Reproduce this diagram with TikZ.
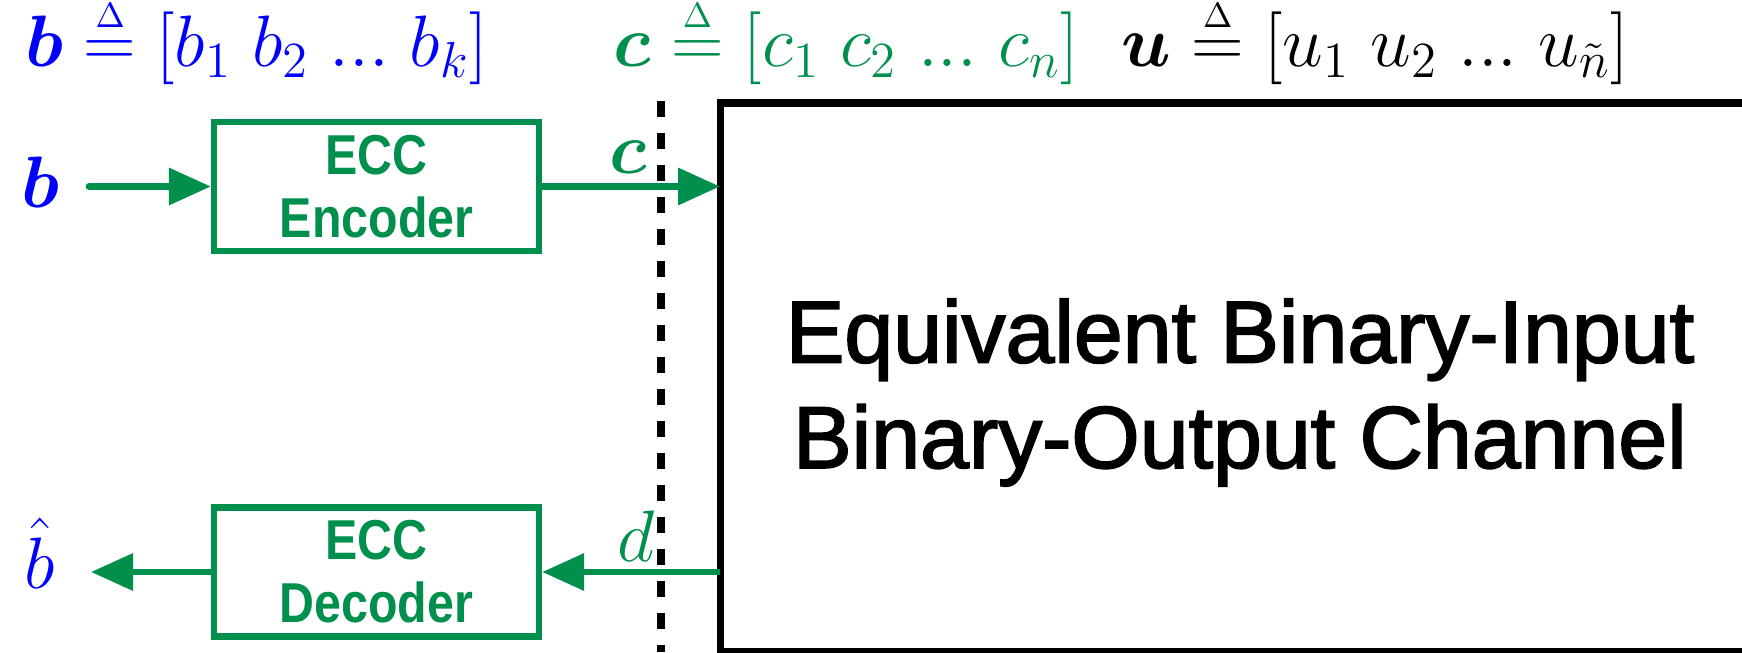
\documentclass[tikz,border=0pt]{standalone}
\usepackage{amsmath,amssymb}
\usepackage{fontspec}
\usepackage{tikz}
\usetikzlibrary{arrows.meta,positioning}
\newfontfamily\blockfont[FakeStretch=0.86]{Liberation Sans}
\newfontfamily\chanfont[FakeBold=2]{Liberation Sans}
\definecolor{eccgreen}{RGB}{0,143,76}
\newcommand{\defeq}{\overset{\scriptscriptstyle\Delta}{=}}

\begin{document}
\begin{tikzpicture}[
	block/.style={draw=eccgreen, line width=1.8pt, minimum width=3.25cm, minimum height=1.29cm, inner sep=0, align=center, text=eccgreen, font=\blockfont\fontsize{16}{18}\selectfont\bfseries},
	link/.style={draw=eccgreen, line width=1.9pt, -{Triangle[length=0.42cm,width=0.36cm]}},
	mathlbl/.style={font=\fontsize{21}{25}\selectfont, inner sep=0},
	veclbl/.style={font=\fontsize{19.5}{24}\selectfont, inner sep=0, anchor=base west}
	]
	\useasboundingbox (0,0) rectangle (17.42,6.52);
	\clip (0,0) rectangle (17.42,6.52);
	% channel
	\node[draw, line width=2pt, anchor=south west, minimum width=10.4cm, minimum height=5.49cm, outer sep=0] (chan) at (7.2,0) {};
	\node[align=center, font=\chanfont\fontsize{25}{30}\selectfont] (chanlbl) at ([yshift=-0.15cm]chan.center) {Equivalent Binary-Input\\Binary-Output Channel};
	% encoder and decoder
	\node[block] (enc) at (3.765,4.655) {ECC\\Encoder};
	\node[block] (dec) at (3.765,0.80) {ECC\\Decoder};
	\node[mathlbl, text=blue, anchor=base] (bin) at (0.40,4.45) {$\boldsymbol{b}$};
	\node[mathlbl, text=blue, anchor=base] (bout) at (0.40,0.64) {$\hat{b}$};
	\coordinate (bstart) at (0.89,4.655);
	\coordinate (bend) at (0.91,0.80);
	\draw[link, line cap=round] (bstart) -- (enc);
	\draw[link] (enc.east) -- (enc.east -| chan.west);
	\draw[link] (dec.east -| chan.west) -- (dec.east);
	\draw[link] (dec.west) -- (bend);
	\node[mathlbl, text=eccgreen] (clbl) at (6.28,4.95) {$\boldsymbol{c}$};
	\node[mathlbl, text=eccgreen] (dlbl) at (6.36,1.16) {$d$};
	% dashed divider
	\coordinate (dtop) at (6.61,5.51);
	\coordinate (dbot) at (6.61,0);
	\draw[line width=2.2pt, dash pattern=on 0.16cm off 0.16cm] (dtop) -- (dbot);
	% vectors
	\node[veclbl, text=blue] (bvec) at (0.25,5.85) {$\boldsymbol{b}\defeq[b_1\ b_2\ ...\ b_k]$};
	\node[veclbl, text=eccgreen] (cvec) at (6.13,5.85) {$\boldsymbol{c}\defeq[c_1\ c_2\ ...\ c_n]$};
	\node[veclbl] (uvec) at (11.21,5.85) {$\boldsymbol{u}\defeq[u_1\ u_2\ ...\ u_{\tilde{n}}]$};
\end{tikzpicture}
\end{document}
